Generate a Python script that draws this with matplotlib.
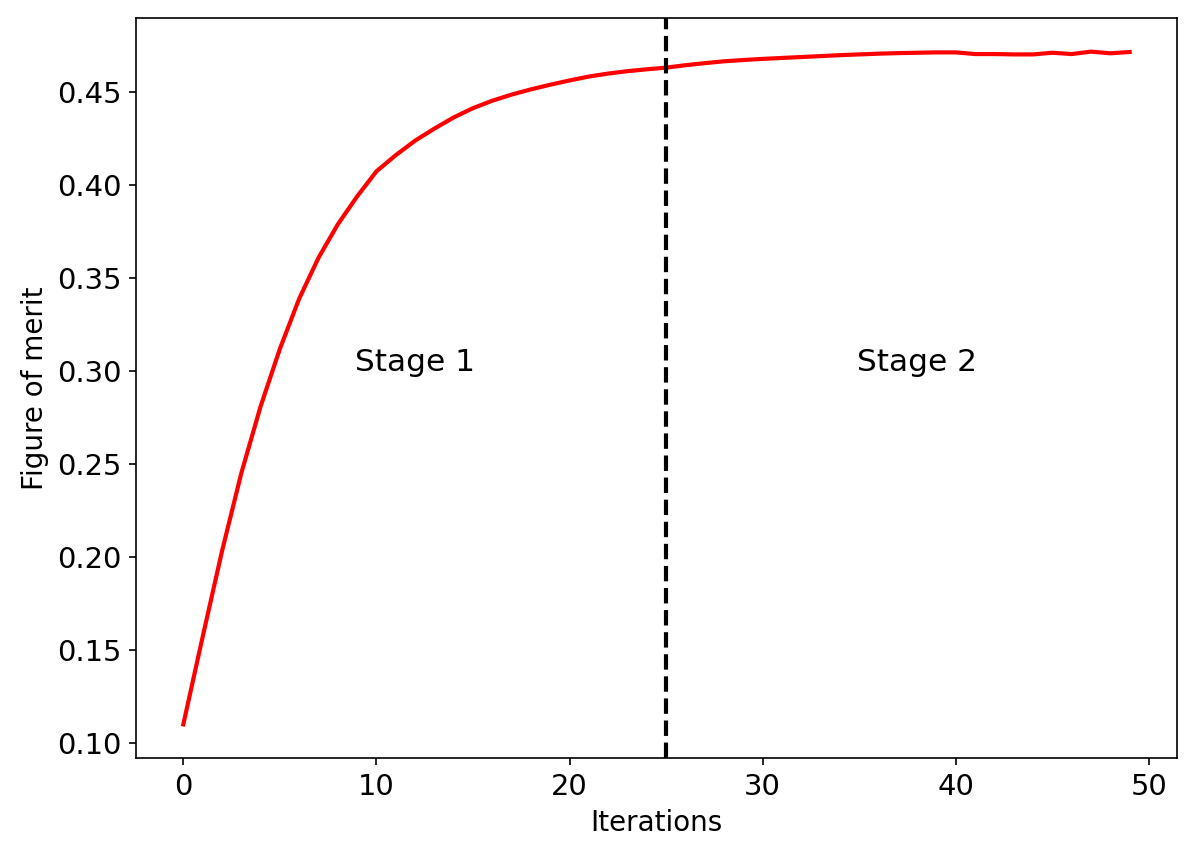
import numpy as np
import matplotlib
matplotlib.use("Agg")
import matplotlib.pyplot as plt

# figure of merit per iteration
iterations = np.arange(50)
merit = [0.110, 0.157, 0.203, 0.245, 0.281, 0.312, 0.339, 0.361, 0.379, 0.394,
         0.4075, 0.4162, 0.4240, 0.4305, 0.4365, 0.4415, 0.4455, 0.4488, 0.4516, 0.4541,
         0.4564, 0.4585, 0.4601, 0.4614, 0.4624, 0.4633, 0.4646, 0.4657, 0.4667, 0.4674,
         0.4680, 0.4685, 0.4690, 0.4695, 0.4700, 0.4704, 0.4708, 0.4711, 0.4713, 0.4715,
         0.4715, 0.4706, 0.4706, 0.4704, 0.4704, 0.4713, 0.4706, 0.4719, 0.4710, 0.4717]
stage_split = 25
stage_labels = ["Stage 1", "Stage 2"]
stage_label_x = [12, 38]
stage_label_y = 0.30

plt.rcParams['font.size'] = 13.3
plt.rcParams['xtick.labelsize'] = 13.9
plt.rcParams['ytick.labelsize'] = 13.9

fig = plt.figure(figsize=(1196 / 150, 861 / 150), dpi=150)
ax = fig.add_axes([0.1137, 0.1196, 0.8704, 0.8595])

ax.plot(iterations, merit, color='red', lw=2)
ax.axvline(stage_split, color='black', ls='--', lw=2)

for lab, xx in zip(stage_labels, stage_label_x):
    ax.text(xx, stage_label_y, lab, ha='center', fontsize=15)

ax.set_xlabel("Iterations")
ax.set_ylabel("Figure of merit")

fig.savefig("out.png", dpi=150)
